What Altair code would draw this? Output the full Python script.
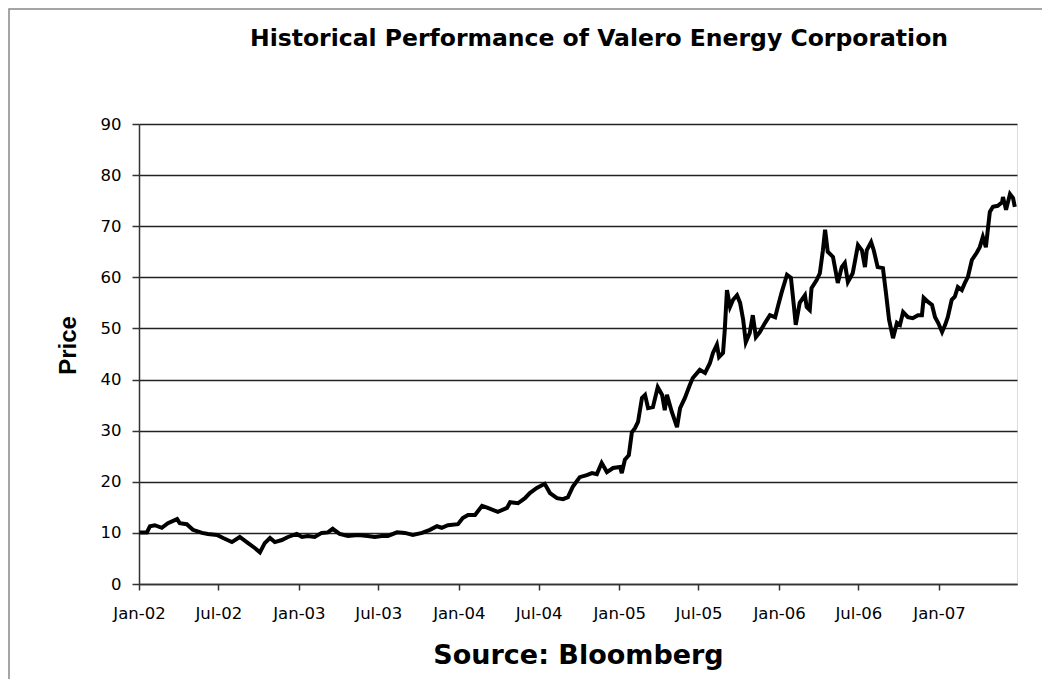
import altair as alt
import pandas as pd

dates = [
    "2002-01-02", "2002-01-19", "2002-01-26", "2002-02-06", "2002-02-22", "2002-03-08", "2002-03-29",
    "2002-04-04", "2002-04-20", "2002-05-04", "2002-05-25", "2002-06-07", "2002-06-28", "2002-07-12",
    "2002-08-01", "2002-08-19", "2002-09-07", "2002-09-23", "2002-10-04", "2002-10-15", "2002-10-27",
    "2002-11-07", "2002-11-23", "2002-12-07", "2002-12-27",
    "2003-01-08", "2003-01-21", "2003-02-06", "2003-02-22", "2003-03-08", "2003-03-19", "2003-04-04",
    "2003-04-23", "2003-05-16", "2003-06-07", "2003-06-23", "2003-07-09", "2003-07-23", "2003-08-13",
    "2003-08-31", "2003-09-18", "2003-10-09", "2003-10-27", "2003-11-12", "2003-11-23", "2003-12-07",
    "2003-12-30",
    "2004-01-10", "2004-01-22", "2004-02-07", "2004-02-23", "2004-03-07", "2004-03-30", "2004-04-20",
    "2004-04-27", "2004-05-15", "2004-05-31", "2004-06-11", "2004-06-27", "2004-07-15", "2004-07-27",
    "2004-08-12", "2004-08-26", "2004-09-06", "2004-09-17", "2004-10-03", "2004-10-19", "2004-10-31",
    "2004-11-11", "2004-11-22", "2004-12-04", "2004-12-18",
    "2005-01-03", "2005-01-07", "2005-01-14", "2005-01-23", "2005-01-30", "2005-02-06", "2005-02-13",
    "2005-02-22", "2005-03-01", "2005-03-08", "2005-03-19", "2005-03-30", "2005-04-09", "2005-04-15",
    "2005-04-20", "2005-05-01", "2005-05-13", "2005-05-20", "2005-05-31", "2005-06-11", "2005-06-18",
    "2005-07-04", "2005-07-16", "2005-07-27", "2005-08-03", "2005-08-12", "2005-08-17", "2005-08-26",
    "2005-08-30", "2005-09-04", "2005-09-11", "2005-09-18", "2005-09-27", "2005-10-04", "2005-10-11",
    "2005-10-17", "2005-10-26", "2005-11-02", "2005-11-09", "2005-11-18", "2005-11-30", "2005-12-11",
    "2005-12-23", "2005-12-29",
    "2006-01-07", "2006-01-19", "2006-01-28", "2006-02-04", "2006-02-08", "2006-02-17", "2006-03-01",
    "2006-03-05", "2006-03-12", "2006-03-16", "2006-03-28", "2006-04-04", "2006-04-11", "2006-04-16",
    "2006-04-22", "2006-05-04", "2006-05-15", "2006-05-24", "2006-05-31", "2006-06-07", "2006-06-18",
    "2006-06-30", "2006-07-09", "2006-07-16", "2006-07-20", "2006-07-30", "2006-08-05", "2006-08-14",
    "2006-08-26", "2006-09-02", "2006-09-09", "2006-09-18", "2006-09-27", "2006-10-04", "2006-10-11",
    "2006-10-22", "2006-11-02", "2006-11-14", "2006-11-23", "2006-11-27", "2006-12-07", "2006-12-16",
    "2006-12-23", "2006-12-30",
    "2007-01-08", "2007-01-15", "2007-01-21", "2007-01-30", "2007-02-06", "2007-02-13", "2007-02-22",
    "2007-03-01", "2007-03-08", "2007-03-17", "2007-03-28", "2007-04-04", "2007-04-11", "2007-04-18",
    "2007-04-23", "2007-04-27", "2007-05-04", "2007-05-15", "2007-05-25", "2007-05-27", "2007-06-03",
    "2007-06-12", "2007-06-19", "2007-06-23",
]

prices = [
    10.1, 10.1, 11.3, 11.5, 11.0, 11.9, 12.7,
    11.9, 11.7, 10.6, 10.0, 9.8, 9.6, 9.0,
    8.2, 9.2, 8.0, 7.0, 6.2, 8.0, 9.0,
    8.2, 8.6, 9.2, 9.8,
    9.2, 9.4, 9.2, 10.0, 10.1, 10.8, 9.8,
    9.4, 9.6, 9.4, 9.2, 9.4, 9.4, 10.1,
    10.0, 9.6, 10.0, 10.6, 11.3, 11.0, 11.5,
    11.7,
    12.9, 13.5, 13.5, 15.3, 14.9, 14.1, 14.9,
    16.0, 15.8, 16.8, 17.8, 18.8, 19.6, 17.8,
    16.8, 16.6, 17.0, 19.0, 20.9, 21.3, 21.7,
    21.5, 23.7, 21.9, 22.7,
    22.9, 21.7, 24.3, 25.2, 29.7, 30.5, 31.7,
    36.4, 37.0, 34.4, 34.6, 38.5, 37.0, 34.0,
    37.0, 33.7, 30.7, 34.4, 36.4, 38.9, 40.3,
    41.9, 41.3, 43.2, 45.2, 46.8, 44.4, 45.2,
    49.7, 57.5, 54.2, 55.6, 56.5, 55.0, 51.7,
    47.3, 49.1, 52.6, 48.3, 49.3, 51.1, 52.6,
    52.2, 54.2,
    57.1, 60.5, 59.9, 54.2, 50.7, 55.0, 56.5,
    54.2, 53.6, 57.9, 59.5, 60.8, 65.3, 69.3,
    65.0, 64.0, 58.9, 62.0, 62.8, 59.1, 60.8,
    66.3, 65.3, 62.0, 65.3, 66.9, 65.3, 62.0,
    61.8, 56.9, 51.7, 48.1, 51.1, 50.7, 53.2,
    52.2, 52.0, 52.6, 52.6, 56.0, 55.2, 54.6,
    52.2, 51.1,
    49.3, 50.7, 52.2, 55.6, 56.2, 58.1, 57.5,
    58.9, 60.1, 63.4, 64.8, 65.9, 67.9, 65.9,
    69.8, 72.8, 73.8, 74.0, 74.7, 75.7, 73.2,
    76.3, 75.5, 73.8,
]

x_ticks = ["2002-01-01", "2002-07-01", "2003-01-01", "2003-07-01", "2004-01-01", "2004-07-01",
           "2005-01-01", "2005-07-01", "2006-01-01", "2006-07-01", "2007-01-01"]
y_ticks = [0, 10, 20, 30, 40, 50, 60, 70, 80, 90]
x_domain = ["2002-01-01", "2007-06-28"]

df = pd.DataFrame({"Date": pd.to_datetime(dates), "Price": prices})

LABEL_FONT = "DejaVu Sans"
BOLD_FONT = "DejaVu Sans"

x_enc = alt.X(
    "Date:T",
    scale=alt.Scale(domain=x_domain, nice=False),
    axis=alt.Axis(
        values=[pd.Timestamp(d) for d in x_ticks],
        format="%b-%y",
        title="Source: Bloomberg",
        titleFont=BOLD_FONT, titleFontSize=27, titleFontWeight="bold", titleColor="#000",
        titlePadding=21,
        labelFont=LABEL_FONT, labelFontSize=16.5, labelColor="#000", labelPadding=15,
        labelFlush=False,
        tickSize=6, tickColor="#333", tickWidth=1.5,
        domainColor="#333", domainWidth=1.5,
        grid=False,
    ),
)

y_enc = alt.Y(
    "Price:Q",
    scale=alt.Scale(domain=[0, 90], nice=False),
    axis=alt.Axis(
        values=y_ticks,
        title="Price",
        titleFont="Liberation Sans", titleFontSize=24, titleFontWeight="bold", titleColor="#000",
        titlePadding=20, titleY=221,
        labelFont=LABEL_FONT, labelFontSize=16.5, labelColor="#000", labelPadding=11,
        tickSize=7, tickColor="#333", tickWidth=1.5,
        domainColor="#333", domainWidth=1.5,
        grid=True, gridColor="#222", gridWidth=1.5, gridOpacity=1,
    ),
)

line = alt.Chart(df).mark_line(color="#000", strokeWidth=4, clip=False).encode(x=x_enc, y=y_enc)

frame = alt.Chart(df.head(1)).mark_rect(
    fill=None, stroke="#888888", strokeWidth=1.5, clip=False
).encode(
    x=alt.value(-130), x2=alt.value(915), y=alt.value(-115), y2=alt.value(580)
)

chart = alt.layer(frame, line).properties(
    width=878,
    height=460,
    title=alt.TitleParams(
        "Historical Performance of Valero Energy Corporation",
        font=BOLD_FONT, fontSize=23.5, fontWeight="bold", color="#000",
        anchor="middle", frame="group", dx=21, offset=-42,
    ),
    autosize=alt.AutoSizeParams(type="none"),
    padding={"left": 131, "top": 116, "right": 25, "bottom": 95},
).configure_view(stroke=None).configure(background="white")

chart.save("out.html", embed_options={"renderer": "svg", "actions": False})
